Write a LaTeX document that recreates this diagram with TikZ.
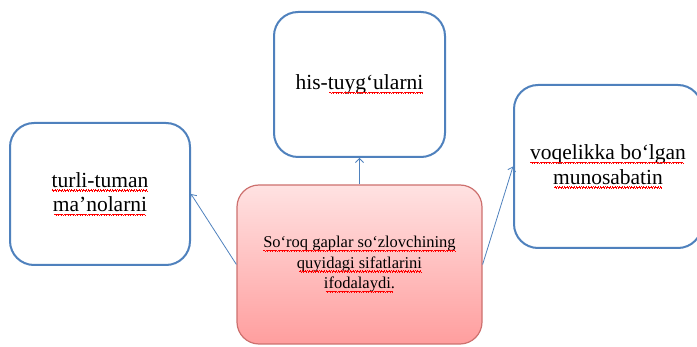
\documentclass[tikz,border=0pt]{standalone}
\usepackage{fontspec}
\setmainfont{Liberation Serif}
\usetikzlibrary{positioning,arrows.meta}
\definecolor{boxblue}{RGB}{79,129,189}
\definecolor{boxred}{RGB}{205,112,110}
\definecolor{pinktop}{RGB}{255,226,226}
\definecolor{pinkbot}{RGB}{255,158,158}
\newcommand\wavebit{\rule[-3.1pt]{0.6pt}{0.55pt}\rule[-2.5pt]{0.6pt}{0.55pt}%
  \rule[-3.1pt]{0.6pt}{0.55pt}\rule[-3.7pt]{0.6pt}{0.55pt}}
\newcommand\wavy[1]{\sbox0{#1}\makebox[0pt][l]{\usebox0}%
  {\color{red}\leaders\hbox{\wavebit}\hskip\wd0}}
\tikzstyle{box}=[draw=boxblue,line width=2pt,rounded corners=24pt,fill=white,
  align=center,font=\fontsize{21.5}{24.5}\selectfont]
\tikzstyle{mainbox}=[draw=boxred,line width=1.2pt,rounded corners=22pt,
  top color=pinktop,bottom color=pinkbot,align=center,
  font=\fontsize{16.5}{20.5}\selectfont]
\tikzstyle{link}=[->,draw=boxblue,line width=0.8pt]

\begin{document}
\begin{tikzpicture}[x=1pt, y=1pt, >={Straight Barb[length=4pt,width=8pt]}, node distance=1cm, on grid]
  \useasboundingbox (0,0) rectangle (697,-347);

  \node[mainbox, minimum width=245pt, minimum height=159pt] at (359.5,-264.5) (q)
    {\wavy{So‘roq gaplar so‘zlovchining}\\ \wavy{quyidagi sifatlarini}\\ \wavy{ifodalaydi.}};

  \node[box, minimum width=171pt, minimum height=145pt, above=180pt of q] (his)
    {his-\wavy{tuyg‘ularni}};
  \node[box, minimum width=180pt, minimum height=142pt, above left=70.5pt and 259.5pt of q] (turli)
    {\wavy{turli-tuman}\\ \wavy{ma’nolarni}};
  \node[box, minimum width=188pt, minimum height=163pt, above right=98pt and 248.5pt of q] (voq)
    {\wavy{voqelikka bo‘lgan}\\ \wavy{munosabatin}};

  \draw[link] (q) -- (his);
  \draw[link] (q.west) -- (turli.east);
  \draw[link] (q.east) -- (voq.west);
\end{tikzpicture}
\end{document}
